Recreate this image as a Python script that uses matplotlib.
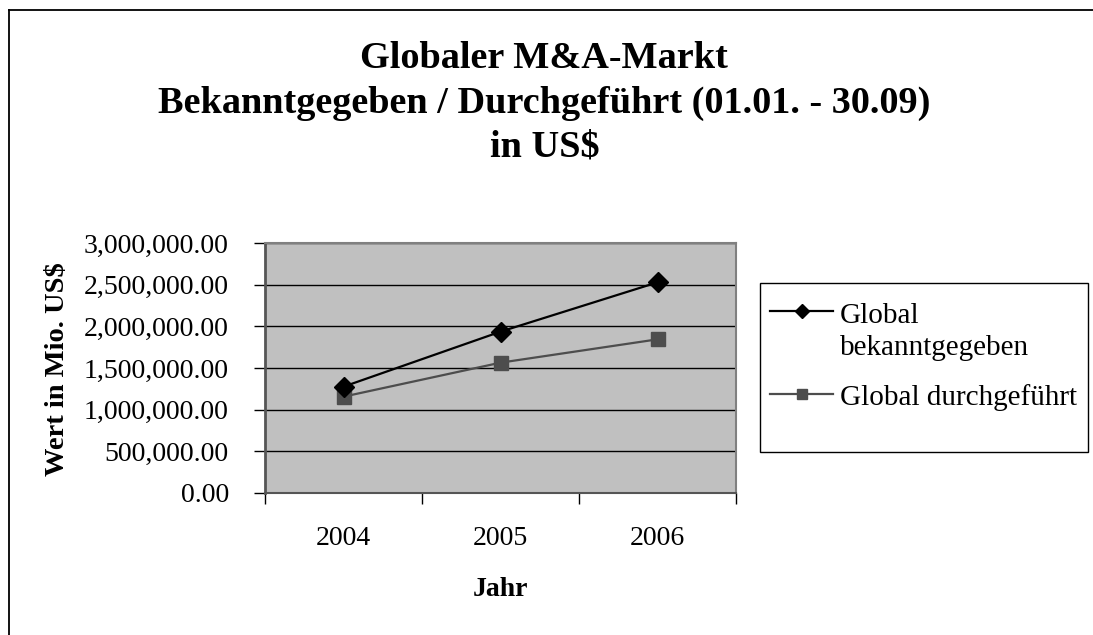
import numpy as np
import matplotlib
matplotlib.use("Agg")
import matplotlib.pyplot as plt
from matplotlib.lines import Line2D
from matplotlib.patches import Rectangle
from matplotlib.ticker import FuncFormatter, FixedLocator

plt.rcParams['font.family'] = ['Liberation Serif', 'DejaVu Serif']

years = ['2004', '2005', '2006']
bekanntgegeben = [1276000, 1936000, 2528000]
durchgefuehrt = [1156000, 1564000, 1844000]
series_names = [['Global', 'bekanntgegeben'], ['Global durchgeführt']]

W, H = 1093, 635
fig = plt.figure(figsize=(W / 100, H / 100), dpi=100)


def fx(px):
    return px / W


def fy(py):
    return 1 - py / H


ax = fig.add_axes([fx(265), fy(493), fx(736) - fx(265), fy(243) - fy(493)])
ax.set_facecolor('#c0c0c0')

x = np.arange(len(years))
styles = [dict(color='black', marker='D', ms=10),
          dict(color='#4d4d4d', marker='s', ms=10)]
ax.plot(x, bekanntgegeben, lw=1.6, markeredgecolor=styles[0]['color'], zorder=4, **styles[0])
ax.plot(x, durchgefuehrt, lw=1.6, markeredgecolor=styles[1]['color'], zorder=3, **styles[1])

ax.set_xlim(-0.5, 2.5)
ax.set_ylim(0, 3000000)
ax.yaxis.set_major_locator(FixedLocator(np.arange(0, 3000001, 500000)))
ax.yaxis.set_major_formatter(FuncFormatter(lambda v, p: '{:,.2f}'.format(v)))
ax.grid(axis='y', color='black', lw=1.0)
ax.set_axisbelow(True)

# ticks between categories, labels at category centres
ax.set_xticks([-0.5, 0.5, 1.5, 2.5])
ax.set_xticklabels([])
ax.set_xticks(x, minor=True)
ax.set_xticklabels(years, minor=True)
ax.tick_params(axis='x', which='major', direction='out', length=8, width=1, color='black')
ax.tick_params(axis='x', which='minor', length=0, pad=24, labelsize=20)
ax.tick_params(axis='y', direction='out', length=8, width=1, color='black', labelsize=20, pad=18)

for side in ['top', 'right']:
    ax.spines[side].set_color('#808080')
    ax.spines[side].set_linewidth(1.5)
ax.spines['left'].set_color('#555555')
ax.spines['left'].set_linewidth(2)
ax.spines['bottom'].set_color('#555555')
ax.spines['bottom'].set_linewidth(1.5)

ax.set_xlabel('Jahr', fontsize=20, fontweight='bold')
ax.xaxis.set_label_coords(0.5, (493 - 590) / 250)
ax.xaxis.label.set_va('center')
ax.set_ylabel('Wert in Mio. US$', fontsize=20.5, fontweight='bold')
ax.yaxis.set_label_coords((58 - 265) / 471, (493 - 369.5) / 250)
ax.yaxis.label.set_va('center')

# title
title_lines = ['Globaler M&A-Markt',
               'Bekanntgegeben / Durchgeführt (01.01. - 30.09)',
               'in US$']
for line, yb in zip(title_lines, [68, 113, 156]):
    fig.text(0.498, fy(yb), line, ha='center', va='baseline', fontsize=27.5, fontweight='bold')

# legend box, handles and text
fig.patches.append(Rectangle((fx(760), fy(452)), fx(328), 169 / H,
                             transform=fig.transFigure, facecolor='white',
                             edgecolor='black', lw=1.0, zorder=1))
handle_y = [311, 394]
text_baselines = [[323, 355], [405]]
for st, hy, names, bases in zip(styles, handle_y, series_names, text_baselines):
    fig.add_artist(Line2D([fx(770), fx(833)], [fy(hy), fy(hy)], transform=fig.transFigure,
                          color=st['color'], lw=1.6))
    fig.add_artist(Line2D([fx(802)], [fy(hy)], transform=fig.transFigure, color=st['color'],
                          marker=st['marker'], ms=7.5, markeredgecolor=st['color']))
    for name, b in zip(names, bases):
        fig.text(fx(840), fy(b), name, ha='left', va='baseline', fontsize=21)

# outer frame (top and left only)
fig.add_artist(Line2D([fx(9), 1], [fy(9.5), fy(9.5)],
                      transform=fig.transFigure, color='black', lw=1.3))
fig.add_artist(Line2D([fx(9), fx(9)], [0, fy(9.5)],
                      transform=fig.transFigure, color='black', lw=1.3))

fig.savefig('out.png', dpi=100)
